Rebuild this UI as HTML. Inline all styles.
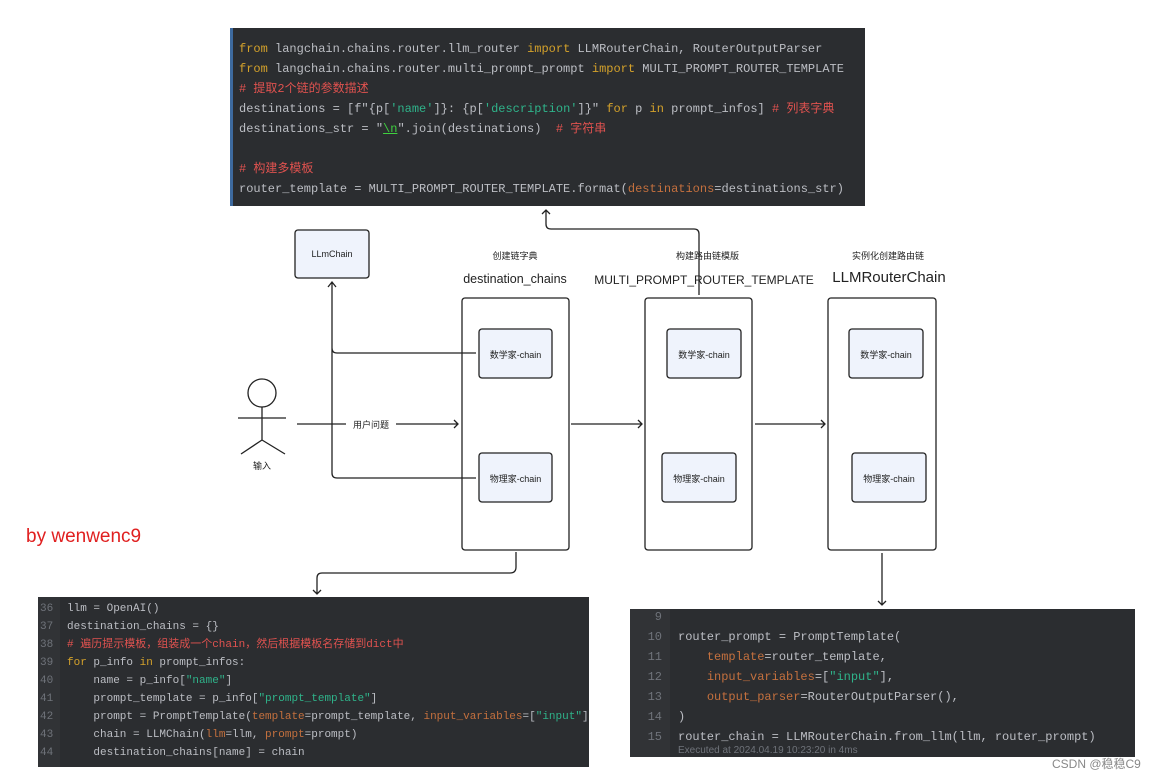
<!DOCTYPE html>
<html><head><meta charset="utf-8"><style>
body{margin:0;width:1164px;height:779px;background:#fff;position:relative;overflow:hidden;font-family:"Liberation Sans","Noto Sans CJK SC",sans-serif}
.code{position:absolute;background:#2b2d30;font-family:"Liberation Mono","Noto Sans CJK SC",monospace;color:#bcbec4;white-space:pre;overflow:hidden}
.code div{position:absolute;white-space:pre}
.k{color:#d3a12b}.s{color:#2fb38a}.c{color:#e0524f}.p{color:#c4703e}.n{color:#6f737a}
.d{position:absolute;font-size:9px;color:#222;text-align:center}
</style></head><body>
<div class="code" style="left:230px;top:28px;width:632px;height:178px;border-left:3px solid #3d6a9f;font-size:12px">
<div style="left:6px;top:13px;line-height:16px"><span class="k">from</span> langchain.chains.router.llm_router <span class="k">import</span> LLMRouterChain, RouterOutputParser</div>
<div style="left:6px;top:33px;line-height:16px"><span class="k">from</span> langchain.chains.router.multi_prompt_prompt <span class="k">import</span> MULTI_PROMPT_ROUTER_TEMPLATE</div>
<div style="left:6px;top:53px;line-height:16px" class="c"># 提取2个链的参数描述</div>
<div style="left:6px;top:73px;line-height:16px">destinations = [f"{p[<span class="s">'name'</span>]}: {p[<span class="s">'description'</span>]}" <span class="k">for</span> p <span class="k">in</span> prompt_infos] <span class="c"># 列表字典</span></div>
<div style="left:6px;top:93px;line-height:16px">destinations_str = "<span style="color:#3fd13f;text-decoration:underline">\n</span>".join(destinations)  <span class="c"># 字符串</span></div>
<div style="left:6px;top:133px;line-height:16px" class="c"># 构建多模板</div>
<div style="left:6px;top:153px;line-height:16px">router_template = MULTI_PROMPT_ROUTER_TEMPLATE.format(<span class="p">destinations</span>=destinations_str)</div>
</div>

<div class="code" style="left:38px;top:597px;width:551px;height:170px;font-size:11px">
<div style="left:0;top:0;width:22px;height:170px;background:#313336"></div>
<div class="n" style="left:2px;top:3px;line-height:18px">36
37
38
39
40
41
42
43
44</div>
<div style="left:29px;top:3px;line-height:18px">llm = OpenAI()
destination_chains = {}
<span class="c"># 遍历提示模板，组装成一个chain，然后根据模板名存储到dict中</span>
<span class="k">for</span> p_info <span class="k">in</span> prompt_infos:
    name = p_info[<span class="s">"name"</span>]
    prompt_template = p_info[<span class="s">"prompt_template"</span>]
    prompt = PromptTemplate(<span class="p">template</span>=prompt_template, <span class="p">input_variables</span>=[<span class="s">"input"</span>])
    chain = LLMChain(<span class="p">llm</span>=llm, <span class="p">prompt</span>=prompt)
    destination_chains[name] = chain</div>
</div>

<div class="code" style="left:630px;top:609px;width:505px;height:148px;font-size:12px">
<div style="left:0;top:0;width:40px;height:148px;background:#313336"></div>
<div class="n" style="left:14px;top:-2px;line-height:20px;text-align:right;width:18px">9
10
11
12
13
14
15</div>
<div style="left:48px;top:18px;line-height:20px">router_prompt = PromptTemplate(
    <span class="p">template</span>=router_template,
    <span class="p">input_variables</span>=[<span class="s">"input"</span>],
    <span class="p">output_parser</span>=RouterOutputParser(),
)
router_chain = LLMRouterChain.from_llm(llm, router_prompt)</div>
<div class="n" style="left:48px;top:136px;font-size:10px;font-family:'Liberation Sans',sans-serif">Executed at 2024.04.19 10:23:20 in 4ms</div>
</div>

<svg width="1164" height="779" style="position:absolute;left:0;top:0" fill="none" stroke="#222" stroke-width="1.3">
<rect x="295" y="230" width="74" height="48" rx="3" fill="#eff3fc"/>
<rect x="462" y="298" width="107" height="252" rx="3" fill="#fff"/>
<rect x="645" y="298" width="107" height="252" rx="3" fill="#fff"/>
<rect x="828" y="298" width="108" height="252" rx="3" fill="#fff"/>
<rect x="479" y="329" width="73" height="49" rx="3" fill="#eff3fc"/>
<rect x="479" y="453" width="73" height="49" rx="3" fill="#eff3fc"/>
<rect x="667" y="329" width="74" height="49" rx="3" fill="#eff3fc"/>
<rect x="662" y="453" width="74" height="49" rx="3" fill="#eff3fc"/>
<rect x="849" y="329" width="74" height="49" rx="3" fill="#eff3fc"/>
<rect x="852" y="453" width="74" height="49" rx="3" fill="#eff3fc"/>
<path d="M476 353H337q-5 0-5-5V282M476 478H337q-5 0-5-5V348M328 287l4-5 4 5"/>
<path d="M297 424H350M392 424H458M454 420l4 4-4 4"/>
<path d="M571 424H642M638 420l4 4-4 4M755 424H825M821 420l4 4-4 4"/>
<path d="M882 553V605M878 601l4 4 4-4"/>
<path d="M516 552V567q0 6-6 6H322q-5 0-5 5V594M313 590l4 4 4-4"/>
<path d="M699 295V234q0-5-5-5H551q-5 0-5-5V210M542 214l4-4 4 4"/>
<circle cx="262" cy="393" r="14"/>
<path d="M262 407V440M238 418H286M262 440L241 454M262 440L285 454"/>
</svg>
<div class="d" style="left:292px;top:249px;width:80px">LLmChain</div>
<div class="d" style="left:475px;top:249px;width:80px">创建链字典</div>
<div class="d" style="left:440px;top:272px;width:150px;font-size:12.5px">destination_chains</div>
<div class="d" style="left:660px;top:249px;width:95px">构建路由链模版</div>
<div class="d" style="left:594px;top:273px;width:220px;font-size:12px">MULTI_PROMPT_ROUTER_TEMPLATE</div>
<div class="d" style="left:838px;top:249px;width:100px">实例化创建路由链</div>
<div class="d" style="left:814px;top:269px;width:150px;font-size:15px">LLMRouterChain</div>
<div class="d" style="left:479px;top:348px;width:73px">数学家-chain</div>
<div class="d" style="left:479px;top:472px;width:73px">物理家-chain</div>
<div class="d" style="left:667px;top:348px;width:74px">数学家-chain</div>
<div class="d" style="left:662px;top:472px;width:74px">物理家-chain</div>
<div class="d" style="left:849px;top:348px;width:74px">数学家-chain</div>
<div class="d" style="left:852px;top:472px;width:74px">物理家-chain</div>
<div class="d" style="left:346px;top:418px;width:50px;background:#fff">用户问题</div>
<div class="d" style="left:242px;top:459px;width:40px">输入</div>
<div style="position:absolute;left:26px;top:526px;font-size:19px;color:#e02020">by wenwenc9</div>
<div style="position:absolute;left:1052px;top:755px;font-size:12px;color:#888">CSDN @稳稳C9</div>
</body></html>
